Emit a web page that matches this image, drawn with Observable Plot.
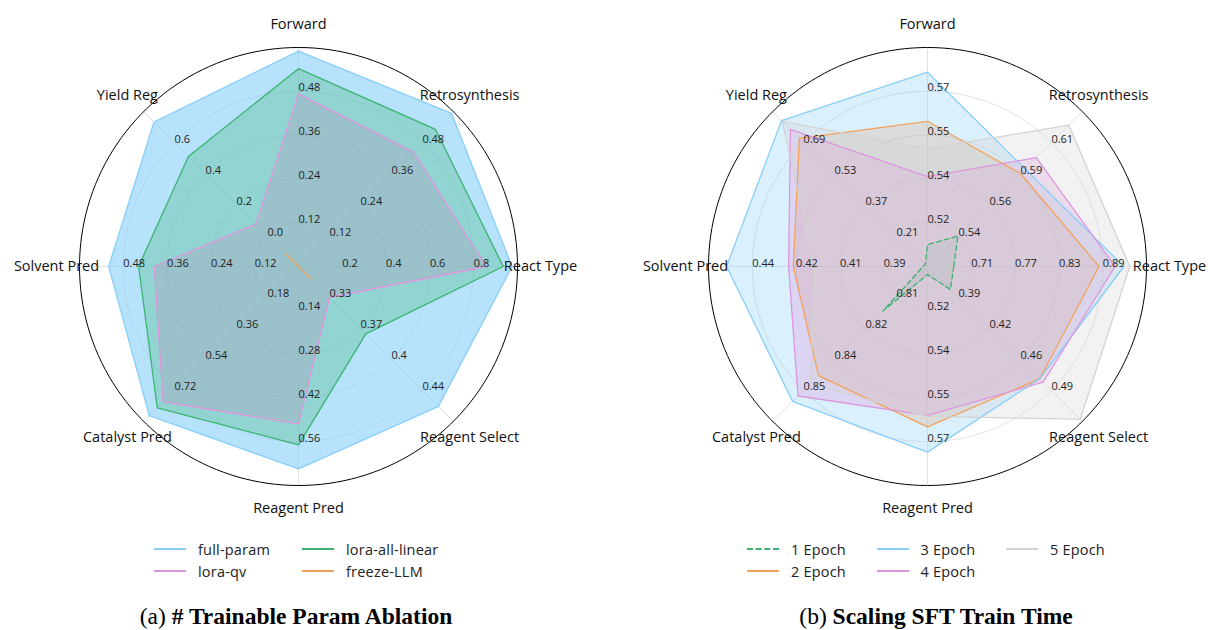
<!DOCTYPE html>
<html><head><meta charset="utf-8">
<script src="https://cdn.jsdelivr.net/npm/d3@7"></script>
<script src="https://cdn.jsdelivr.net/npm/@observablehq/plot@0.6"></script>
<style>
body{margin:0;background:#fff;width:1208px;height:630px;overflow:hidden;position:relative;font-family:"Open Sans",sans-serif}
.chart{position:absolute;top:0}
.item{position:absolute;display:flex;align-items:center;white-space:nowrap;font-size:14.5px;letter-spacing:0.2px;color:#222;height:20px}
.swatch{position:absolute;top:9px;height:0;width:32px}
.caption{position:absolute;top:604px;line-height:24px;font-family:"Liberation Serif","Times New Roman",serif;font-size:23.5px;transform:translateX(-50%);white-space:nowrap;color:#000}
</style></head>
<body>
<div id="left" class="chart" style="left:0"></div>
<div id="right" class="chart" style="left:604px"></div>
<div id="legend"></div>
<div class="caption" style="left:296px">(a) <b># Trainable Param Ablation</b></div>
<div class="caption" style="left:936px">(b) <b>Scaling SFT Train Time</b></div>
<script>
// ---------- data ----------
const axes = ["React Type","Retrosynthesis","Forward","Yield Reg","Solvent Pred","Catalyst Pred","Reagent Pred","Reagent Select"];

// left chart (a)
const leftAxisMin = [0, 0, 0, -0.2, 0, 0, 0, 0.2933];
const leftAxisMax = [1.0, 0.6, 0.6, 0.8, 0.6, 0.9, 0.7, 0.4767];
const leftTickLabels = [
  ["0.2","0.4","0.6","0.8"],
  ["0.12","0.24","0.36","0.48"],
  ["0.12","0.24","0.36","0.48"],
  ["0.0","0.2","0.4","0.6"],
  ["0.12","0.24","0.36","0.48"],
  ["0.18","0.36","0.54","0.72"],
  ["0.14","0.28","0.42","0.56"],
  ["0.33","0.37","0.4","0.44"]
];
const leftNames = ["full-param","lora-qv","lora-all-linear","freeze-LLM"];
const fullParam     = [0.975, 0.593, 0.590, 0.733, 0.520, 0.867, 0.647, 0.459];
const loraQv        = [0.858, 0.444, 0.473, 0.074, 0.395, 0.787, 0.503, 0.330];
const loraAllLinear = [0.935, 0.531, 0.542, 0.511, 0.438, 0.821, 0.570, 0.373];
const freezeLLM     = [0, 0, 0, -0.118, 0, 0, 0, 0.308];

// right chart (b)
const rightAxisMin = [0.65, 0.5167, 0.5033, 0.05, 0.3733, 0.7967, 0.5033, 0.3567];
const rightAxisMax = [0.95, 0.6333, 0.5867, 0.85, 0.4567, 0.8633, 0.5867, 0.5233];
const rightTickLabels = [
  ["0.71","0.77","0.83","0.89"],
  ["0.54","0.56","0.59","0.61"],
  ["0.52","0.54","0.55","0.57"],
  ["0.21","0.37","0.53","0.69"],
  ["0.39","0.41","0.42","0.44"],
  ["0.81","0.82","0.84","0.85"],
  ["0.52","0.54","0.55","0.57"],
  ["0.39","0.42","0.46","0.49"]
];
const rightNames = ["1 Epoch","2 Epoch","3 Epoch","4 Epoch","5 Epoch"];
const epoch1 = [0.686, 0.5396, 0.5116, 0.061, 0.375, 0.8158, 0.5064, 0.3813];
const epoch2 = [0.885, 0.5867, 0.5586, 0.712, 0.4244, 0.8436, 0.5644, 0.4775];
const epoch3 = [0.919, 0.5902, 0.5773, 0.804, 0.4498, 0.8547, 0.5740, 0.4775];
const epoch4 = [0.907, 0.5986, 0.5375, 0.758, 0.4262, 0.8524, 0.5600, 0.4811];
const epoch5 = [0.927, 0.6231, 0.5481, 0.800, 0.4163, 0.8470, 0.5604, 0.5210];

// ---------- styles ----------
const BLUE = "#87cefa", PINK = "#dd96dd", GREEN = "#3cb371", ORANGE = "#f4a25a", GRAY = "#d3d3d3";

const leftSeries = [
  {name: leftNames[0], values: fullParam, color: BLUE, fillOpacity: 0.6},
  {name: leftNames[1], values: loraQv, color: PINK, fillOpacity: 0.35},
  {name: leftNames[2], values: loraAllLinear, color: GREEN, fillOpacity: 0.3},
  {name: leftNames[3], values: freezeLLM, color: ORANGE, fillOpacity: 0.3}
];
const rightSeries = [
  {name: rightNames[0], values: epoch1, color: GREEN, fillOpacity: 0.3, dash: "5,3"},
  {name: rightNames[1], values: epoch2, color: ORANGE, fillOpacity: 0.3},
  {name: rightNames[2], values: epoch3, color: BLUE, fillOpacity: 0.3},
  {name: rightNames[3], values: epoch4, color: PINK, fillOpacity: 0.3},
  {name: rightNames[4], values: epoch5, color: GRAY, fillOpacity: 0.3}
];

function radarPlot({cx, cy, R, width, height, mins, maxs, ticks, series}) {
  const ang = i => i * Math.PI / 4;
  const rings = [0.2, 0.4, 0.6, 0.8];
  const circle = r => d3.range(0, 361, 2).map(a => ({x: r * Math.cos(a * Math.PI / 180), y: r * Math.sin(a * Math.PI / 180), r}));
  const ringPts = rings.flatMap(circle);
  const outer = circle(1);
  const spokes = axes.map((name, i) => ({x1: 0, y1: 0, x2: Math.cos(ang(i)), y2: Math.sin(ang(i))}));
  const tickData = axes.flatMap((name, i) => ticks[i].map((t, k) => ({x: rings[k] * Math.cos(ang(i)), y: rings[k] * Math.sin(ang(i)), t})));
  const labelData = axes.map((name, i) => ({x: 1.105 * Math.cos(ang(i)), y: 1.105 * Math.sin(ang(i)), name}));
  const polys = series.map(s => ({...s, pts: s.values.map((v, i) => {
    const r = (v - mins[i]) / (maxs[i] - mins[i]);
    return {x: r * Math.cos(ang(i)), y: r * Math.sin(ang(i))};
  })}));
  return Plot.plot({
    width, height, margin: 0,
    x: {domain: [-cx / R, (width - cx) / R], axis: null},
    y: {domain: [-(height - cy) / R, cy / R], axis: null},
    style: {fontFamily: "'Open Sans', sans-serif", background: "transparent", overflow: "visible"},
    marks: [
      Plot.line(ringPts, {x: "x", y: "y", z: "r", stroke: "#dadada", strokeWidth: 0.8}),
      Plot.link(spokes, {x1: "x1", y1: "y1", x2: "x2", y2: "y2", stroke: "#dadada", strokeWidth: 0.8}),
      ...polys.map(p => Plot.line(p.pts, {x: "x", y: "y", curve: "linear-closed", fill: p.color, fillOpacity: p.fillOpacity, stroke: "none"})),
      ...polys.map(p => Plot.line(p.pts, {x: "x", y: "y", curve: "linear-closed", stroke: p.color, strokeWidth: 1.3, strokeDasharray: p.dash || null})),
      Plot.line(outer, {x: "x", y: "y", stroke: "#000", strokeWidth: 1}),
      Plot.text(tickData, {x: "x", y: "y", text: "t", textAnchor: "start", lineAnchor: "bottom", fontSize: 11, fill: "#222"}),
      Plot.text(labelData, {x: "x", y: "y", text: "name", fontSize: 14.5, fill: "#111"})
    ]
  });
}

document.getElementById("left").append(radarPlot({cx: 298, cy: 266, R: 219, width: 604, height: 530,
  mins: leftAxisMin, maxs: leftAxisMax, ticks: leftTickLabels, series: leftSeries}));
document.getElementById("right").append(radarPlot({cx: 323, cy: 266, R: 219, width: 604, height: 530,
  mins: rightAxisMin, maxs: rightAxisMax, ticks: rightTickLabels, series: rightSeries}));

// ---------- legends ----------
const legend = document.getElementById("legend");
function addLegend(series, x0, colStep, rows) {
  series.forEach((s, i) => {
    const col = Math.floor(i / rows), row = i % rows;
    const item = document.createElement("div");
    item.className = "item";
    item.style.left = (x0 + col * colStep) + "px";
    item.style.top = (539 + row * 22) + "px";
    const sw = document.createElement("div");
    sw.className = "swatch";
    sw.style.left = "0px";
    sw.style.borderTop = `2.5px ${s.dash ? "dashed" : "solid"} ${s.color}`;
    const tx = document.createElement("span");
    tx.textContent = s.name;
    tx.style.marginLeft = "44px";
    item.append(sw, tx);
    legend.append(item);
  });
}
addLegend(leftSeries, 154, 148, 2);
addLegend(rightSeries, 747, 129.5, 2);
</script>
</body></html>
